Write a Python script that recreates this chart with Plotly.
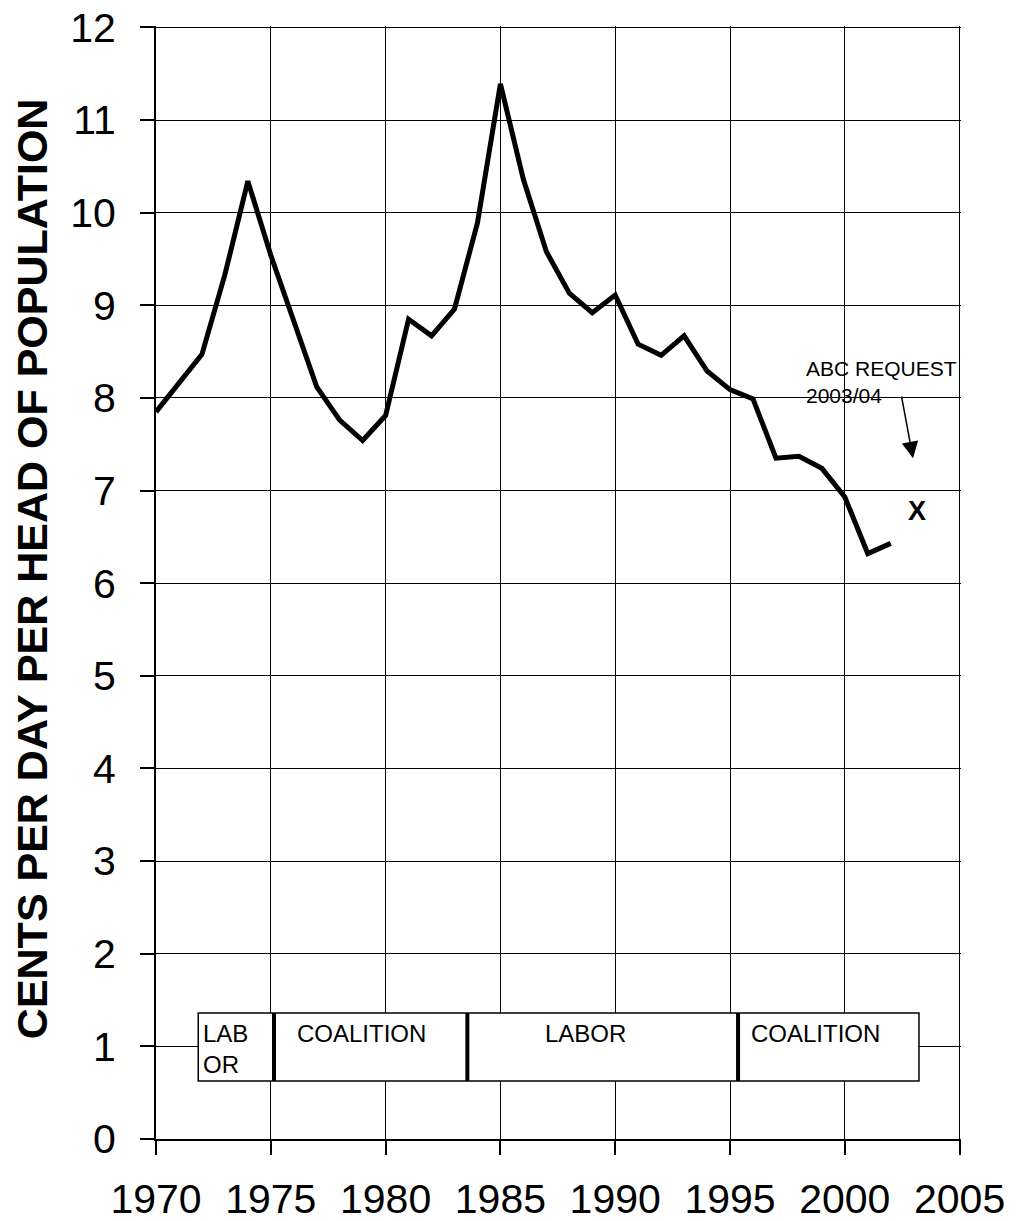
import plotly.graph_objects as go

# ---- data ----
years = list(range(1970, 2003))
cents = [7.85, 8.17, 8.47, 9.33, 10.34, 9.54, 8.82, 8.12, 7.76, 7.54,
         7.81, 8.85, 8.67, 8.96, 9.89, 11.39, 10.36, 9.58, 9.13, 8.92,
         9.11, 8.58, 8.46, 8.67, 8.29, 8.09, 7.99, 7.35, 7.37, 7.24,
         6.93, 6.32, 6.43]
x_ticks = [1970, 1975, 1980, 1985, 1990, 1995, 2000, 2005]
y_ticks = list(range(0, 13))
gov_bounds = [1971.84, 1975.14, 1983.56, 1995.35, 2003.23]
gov_labels = ["LAB<br>OR", "COALITION", "LABOR", "COALITION"]
request_label = "ABC REQUEST<br>2003/04"
request_year = 2003.16
request_value = 6.78

FONT = "Arial, Liberation Sans, sans-serif"

fig = go.Figure()
fig.add_trace(go.Scatter(x=years, y=cents, mode="lines",
                         line=dict(color="black", width=5),
                         showlegend=False, hoverinfo="skip"))

shapes = []
box_bottom, box_top = 0.626, 1.36
shapes.append(dict(type="rect", xref="x", yref="y",
                   x0=gov_bounds[0], x1=gov_bounds[-1], y0=box_bottom, y1=box_top,
                   line=dict(color="black", width=1.5), fillcolor="white", layer="above"))
for b in gov_bounds[1:-1]:
    shapes.append(dict(type="line", xref="x", yref="y", x0=b, x1=b,
                       y0=box_bottom, y1=box_top,
                       line=dict(color="black", width=4), layer="above"))

annotations = []
lab_pos = [(1971.97, 0.97, "left"), (1976.04, 1.14, "left"),
           (1988.7, 1.14, "center"), (1995.83, 1.14, "left")]
for (lx, ly, anc), txt in zip(lab_pos, gov_labels):
    annotations.append(dict(x=lx, y=ly, xref="x", yref="y", text=txt,
                            showarrow=False, xanchor=anc, yanchor="middle",
                            align="left", font=dict(family=FONT, size=24, color="black")))

annotations.append(dict(x=1998.23, y=8.17, xref="x", yref="y", text=request_label,
                        showarrow=False, xanchor="left", yanchor="middle", align="left",
                        font=dict(family=FONT, size=21, color="black")))
annotations.append(dict(x=2002.97, y=7.35, xref="x", yref="y", ax=2002.46, ay=8.03,
                        axref="x", ayref="y", text="", showarrow=True,
                        arrowhead=2, arrowsize=2.2, arrowwidth=1.5, arrowcolor="black"))
annotations.append(dict(x=request_year, y=request_value, xref="x", yref="y", text="<b>X</b>",
                        showarrow=False, xanchor="center", yanchor="middle",
                        font=dict(family=FONT, size=27, color="black")))
annotations.append(dict(x=-0.154, y=0.512, xref="paper", yref="paper",
                        text="<b>CENTS PER DAY PER HEAD OF POPULATION</b>",
                        textangle=-90, showarrow=False, xanchor="center", yanchor="middle",
                        font=dict(family=FONT, size=43, color="black")))

fig.update_layout(
    template="none",
    width=1008, height=1213,
    margin=dict(l=148, r=55, t=18, b=82, autoexpand=False),
    paper_bgcolor="white", plot_bgcolor="white",
    shapes=shapes, annotations=annotations,
    font=dict(family=FONT, color="black"),
)
fig.update_xaxes(range=[1970, 2005.06], tickvals=x_ticks, ticktext=[str(v) for v in x_ticks],
                 automargin=False, ticklabeloverflow="allow",
                 showgrid=True, gridcolor="black", gridwidth=1.3,
                 showline=True, linecolor="black", linewidth=2,
                 ticks="outside", ticklen=14, tickwidth=2, tickcolor="black",
                 tickfont=dict(family=FONT, size=41, color="black"),
                 ticklabelstandoff=9, zeroline=False)
fig.update_yaxes(range=[0, 12.015], tickvals=y_ticks, automargin=False,
                 ticklabeloverflow="allow",
                 showgrid=True, gridcolor="black", gridwidth=1.3,
                 showline=True, linecolor="black", linewidth=2,
                 ticks="outside", ticklen=14, tickwidth=2, tickcolor="black",
                 tickfont=dict(family=FONT, size=41, color="black"),
                 ticklabelstandoff=16, zeroline=False)

fig.write_html("out.html")
